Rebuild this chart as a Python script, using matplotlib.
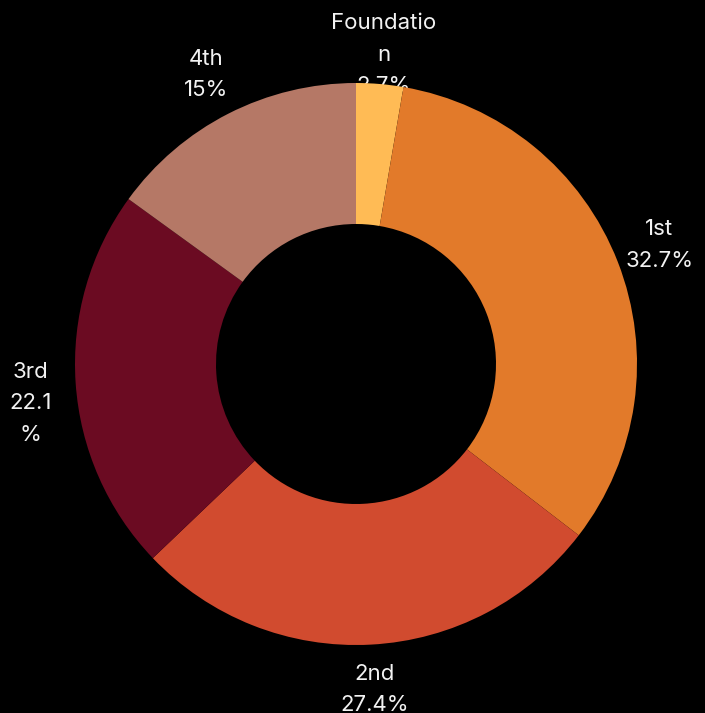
import numpy as np
import matplotlib
matplotlib.use('Agg')
import matplotlib.pyplot as plt

plt.rcParams['font.family'] = ['Inter', 'DejaVu Sans']

names = ['Foundation', '1st', '2nd', '3rd', '4th']
values = [2.7, 32.7, 27.4, 22.1, 15]
# label text as wrapped in the chart
labels = ['Foundatio\nn\n2.7%', '1st\n32.7%', '2nd\n27.4%', '3rd\n22.1\n%', '4th\n15%']
colors = ['#FFBB55', '#E27A2A', '#D14B2F', '#6B0B22', '#B57866']

W, H = 705, 713
fig = plt.figure(figsize=(W / 100, H / 100), dpi=100, facecolor='black')
ax = fig.add_axes([0, 0, 1, 1])
ax.set_facecolor('black')

cx, cy = 356, H - 364
R, r_in = 281, 140

wedges, _ = ax.pie(values, colors=colors, startangle=90, counterclock=False,
                   center=(cx, cy), radius=R, frame=True,
                   wedgeprops=dict(width=R - r_in, linewidth=0, zorder=2))
ax.set_xlim(0, W)
ax.set_ylim(0, H)
ax.set_aspect('equal')
ax.axis('off')

line_h = 31
cum = np.cumsum([0] + values[:-1])
for lab, v, c0 in zip(labels, values, cum):
    ang = np.deg2rad(90 - (c0 + v / 2) * 3.6)
    x = cx + 326 * np.cos(ang)
    y = cy + 326 * np.sin(ang)
    n = lab.count('\n') + 1
    y -= (n - 2) * line_h / 2
    ax.text(x, y, lab, ha='center', va='center', color='#F2F2F2',
            fontsize=16, linespacing=1.72, zorder=1)

fig.savefig('out.png', dpi=100, facecolor='black')
